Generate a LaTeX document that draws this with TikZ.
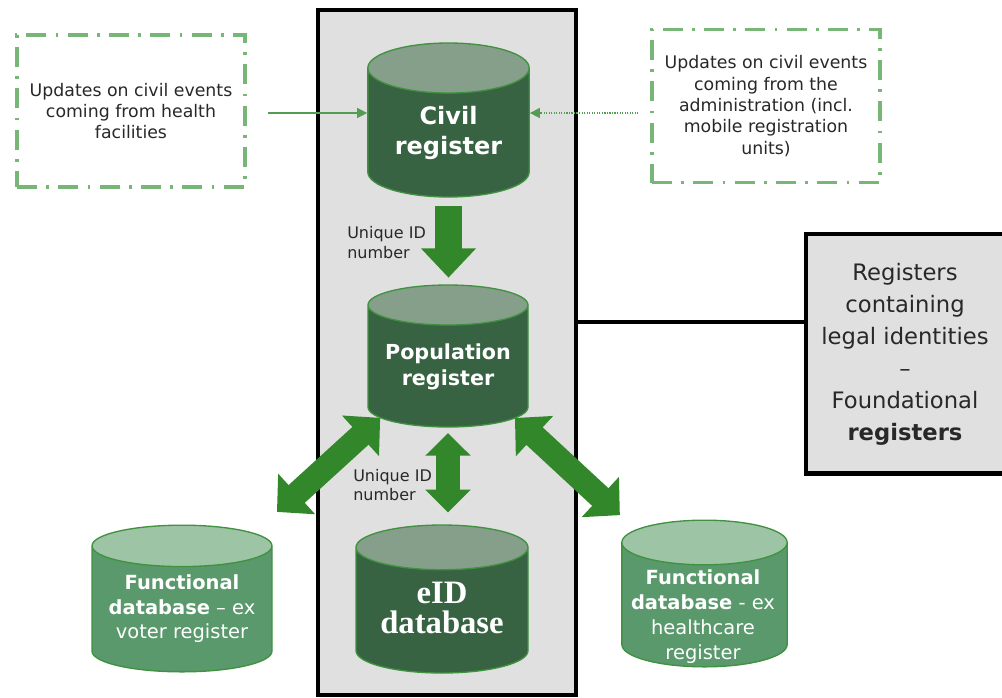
\documentclass[tikz,border=0pt]{standalone}
\usepackage{fontspec}
\setmainfont{DejaVu Sans}
\newfontfamily\eidfont{Liberation Serif}
\usetikzlibrary{shapes.geometric,arrows.meta,calc}
\definecolor{boxgray}{RGB}{224,224,224}
\definecolor{regbody}{RGB}{56,99,66}
\definecolor{regtop}{RGB}{134,159,138}
\definecolor{funcbody}{RGB}{90,153,108}
\definecolor{functop}{RGB}{157,196,164}
\definecolor{rimgreen}{RGB}{64,145,64}
\definecolor{arrgreen}{RGB}{50,135,42}
\definecolor{dashgreen}{RGB}{120,182,120}
\definecolor{txtgray}{RGB}{40,40,40}
\newcommand\cylwd[1]{\rule{#1}{0pt}}
\tikzset{
 regcyl/.style={cylinder,shape border rotate=90,draw=rimgreen,line width=1pt,
  cylinder uses custom fill,cylinder body fill=regbody,cylinder end fill=regtop,
  inner sep=0pt,anchor=shape center},
 funccyl/.style={regcyl,cylinder body fill=funcbody,cylinder end fill=functop},
 cyltext/.style={text=white,align=center,inner sep=0pt},
 updbox/.style={draw=dashgreen,line width=2.3pt,dash pattern=on 15pt off 7pt on 2pt off 7pt,
  align=center,text=txtgray,font=\fontsize{13}{16}\selectfont},
 idlabel/.style={align=left,text=txtgray,font=\fontsize{12}{14.3}\selectfont,inner sep=0pt},
 feedline/.style={draw=rimgreen!90,line width=0.9pt,-{Triangle[length=7.5pt,width=7.5pt]}},
 bigdown/.style={draw=arrgreen,line width=20pt,-{Triangle[length=22pt,width=40pt]}},
 bigboth/.style={draw=arrgreen,line width=18pt,{Triangle[length=20pt,width=40pt]}-{Triangle[length=20pt,width=40pt]}},
 midboth/.style={draw=arrgreen,line width=18pt,{Triangle[length=17pt,width=33pt]}-{Triangle[length=17pt,width=33pt]}}
}
\begin{document}
\begin{tikzpicture}[x=0.75pt,y=-0.75pt]
 \useasboundingbox (0,0) rectangle (1002,697);
 \draw[fill=boxgray,line width=3.5pt](318,10) rectangle (576,695);
 \node[fill=boxgray,minimum width=175pt,minimum height=179pt,anchor=north west] (legal) at (806,234) {};
 \draw[line width=3.5pt,line join=miter] (legal.north east) -- (legal.north west) -- (legal.south west) -- (legal.south east);
 \node[align=center,text=txtgray,font=\fontsize{17}{24}\selectfont,inner sep=0pt] (legaltext) at (905,354)
  {Registers\\containing\\legal identities\\--\\Foundational\\\textbf{registers}};
 \node[updbox,minimum width=171pt,minimum height=114pt] (hfac) at (131,111)
  {Updates on civil events\\coming from health\\facilities};
 \node[updbox,minimum width=171pt,minimum height=115pt] (admin) at (766,106)
  {Updates on civil events\\coming from the\\administration (incl.\\mobile registration\\units)};
 \node[regcyl,aspect=0.31,minimum height=115.5pt] (civil) at (448.5,120) {\cylwd{121pt}};
 \node[regcyl,aspect=0.25,minimum height=106.5pt] (pop) at (448,356) {\cylwd{120pt}};
 \node[regcyl,aspect=0.26,minimum height=111pt] (eid) at (442,599) {\cylwd{129pt}};
 \node[funccyl,aspect=0.23,minimum height=110pt] (voter) at (182,598.5) {\cylwd{135pt}};
 \node[funccyl,aspect=0.27,minimum height=110pt] (health) at (704.5,593.5) {\cylwd{124pt}};
 \node[cyltext,font=\fontsize{18}{23}\selectfont\bfseries] (civiltext) at (448.5,133) {Civil\\register};
 \node[cyltext,font=\fontsize{15.5}{19.5}\selectfont\bfseries] (poptext) at (448,367) {Population\\register};
 \node[cyltext,font=\eidfont\fontsize{24.5}{23}\selectfont\bfseries] (eidtext) at (442,608) {eID\\database};
 \node[cyltext,font=\fontsize{14.6}{18.4}\selectfont] (votertext) at (182,609)
  {\textbf{Functional}\\\textbf{database} -- ex\\voter register};
 \node[cyltext,font=\fontsize{14.6}{18.8}\selectfont] (healthtext) at (703,617)
  {\textbf{Functional}\\\textbf{database} - ex\\healthcare\\register};
 \node[idlabel,anchor=west] (id1) at (347,242.5) {Unique ID\\number};
 \node[idlabel,anchor=west] (id2) at (353,485) {Unique ID\\number};
 \coordinate (lvl) at (0,113);
 \draw[feedline,shorten <=21pt*0.75] (hfac.east |- lvl) -- (civil.west |- lvl);
 \draw[feedline,densely dotted,shorten <=12pt*0.75] (admin.west |- lvl) -- (civil.east |- lvl);
 \draw[line width=3.5pt] (576,322) -- (legal.west |- 0,322);
 \draw[bigdown,shorten <=6pt,shorten >=5pt] (civil.south) -- (civil.south |- pop.north);
 \draw[midboth,shorten <=4pt,shorten >=9pt] (pop.south) -- (pop.south |- eid.north);
 \draw[bigboth] ($(pop.shape center)!0.255!(voter.shape center)$) -- ($(pop.shape center)!0.643!(voter.shape center)$);
 \draw[bigboth] ($(pop.shape center)!0.261!(health.shape center)$) -- ($(pop.shape center)!0.67!(health.shape center)$);
\end{tikzpicture}
\end{document}
